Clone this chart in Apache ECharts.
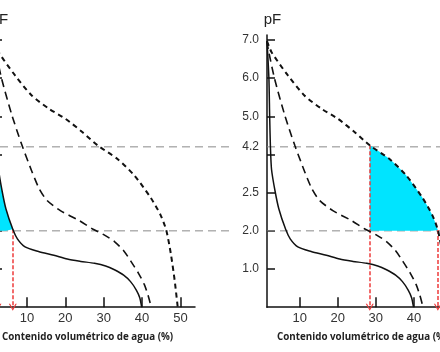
<!DOCTYPE html>
<html>
<head>
<meta charset="utf-8">
<script src="https://cdn.jsdelivr.net/npm/echarts@6/dist/echarts.min.js"></script>
<style>
  html, body { margin: 0; padding: 0; background: #fff; }
  #chart { width: 440px; height: 352px; }
</style>
</head>
<body>
<div id="chart"></div>
<script>
// curvas de retención: [contenido volumétrico (%), pF]
const curvaSolida = [[1.4, 6.97], [1.9, 6.0], [2.1, 5.0], [2.3, 4.2], [2.6, 3.6], [3.5, 3.05], [4.5, 2.58], [6.3, 2.04],
  [7.5, 1.79], [9.5, 1.58], [13, 1.46], [17, 1.36], [20.5, 1.26], [24, 1.2], [27.6, 1.15], [30.5, 1.08],
  [32.8, 0.98], [35.2, 0.84], [37, 0.67], [38.5, 0.45], [39.4, 0.25], [39.9, 0]]
const curvaTrazoLargo = [[1.4, 6.97], [1.7, 6.77], [3.4, 5.98], [6.1, 5.02], [8.7, 4.24], [11.3, 3.55], [13.2, 3.1],
  [15.2, 2.8], [18.7, 2.53], [23.6, 2.27], [27.1, 2.05], [30, 1.9], [32.8, 1.72], [35.2, 1.48], [37.1, 1.2],
  [39, 0.9], [40.6, 0.59], [41.6, 0.3], [42.4, 0]]
const curvaTrazoCorto = [[1.4, 6.97], [2.6, 6.68], [6.9, 6.07], [11.3, 5.54], [15.7, 5.2], [20.1, 4.93], [24.4, 4.59],
  [28.4, 4.24], [33.6, 3.88], [38, 3.45], [42.3, 2.86], [44.8, 2.42], [46.3, 2.02], [47.5, 1.4], [48.5, 0.7], [49.3, 0]]

// ejes
const yTicks = [1, 2, 3, 4, 5, 6, 7]
const yLabelValues = [1, 2, 3, 4.2, 5, 6, 7]
const yLabelTexts = ['1.0', '2.0', '2.5', '4.2', '5.0', '6.0', '7.0']
const xTicks = [10, 20, 30, 40, 50]
const pfMarchitez = 4.2
const pfCapacidad = 2.0

// agua disponible: tramo de la curva entre pF 4.2 y 2.0
function tramo (curva) {
  return curva.filter(p => p[1] <= pfMarchitez + 0.05 && p[1] >= pfCapacidad)
}
const aguaIzq = tramo(curvaSolida)
const aguaDer = tramo(curvaTrazoCorto)

const chart = echarts.init(document.getElementById('chart'))

const negro = '#111'
const rojo = '#ee3b3b'
const cian = '#00e4ff'
const flecha = 'path://M0,10 L5,0 L10,10 L8.4,10 L5,3.2 L1.6,10 Z'

function ejeY (idx) {
  return {
    type: 'value',
    gridIndex: idx,
    min: 0,
    max: 7.13,
    name: 'pF',
    nameLocation: 'end',
    nameGap: 8,
    nameTextStyle: { fontSize: 15, color: '#222', fontFamily: 'Liberation Sans', padding: [0, 0, 0, 11] },
    axisLine: { show: true, lineStyle: { color: negro, width: 1.5 } },
    axisTick: { show: true, inside: true, length: 8, customValues: yTicks, lineStyle: { color: negro, width: 1.5 } },
    axisLabel: {
      customValues: yLabelValues,
      formatter: v => {
        const i = yLabelValues.findIndex(t => Math.abs(t - v) < 1e-6)
        return i >= 0 ? yLabelTexts[i] : ''
      },
      margin: 8,
      fontSize: 12,
      fontFamily: 'Liberation Sans',
      color: '#333',
      padding: [0, 0, 6, 0]
    },
    splitLine: { show: false }
  }
}

function ejeX (idx, max) {
  return {
    type: 'value',
    gridIndex: idx,
    min: 1.4,
    max: max,
    axisLine: { show: true, onZero: false, lineStyle: { color: negro, width: 1.5 } },
    axisTick: { show: true, inside: true, length: 10, customValues: xTicks, lineStyle: { color: negro, width: 1.5 } },
    axisLabel: { customValues: xTicks, margin: 5, fontSize: 13, fontFamily: 'Liberation Sans', color: '#333' },
    splitLine: { show: false }
  }
}

function curvas (idx) {
  const base = { type: 'line', xAxisIndex: idx, yAxisIndex: idx, showSymbol: false, smooth: 0.25, silent: true, z: 5 }
  return [
    Object.assign({}, base, { name: 'solida', data: curvaSolida, lineStyle: { color: negro, width: 1.5 } }),
    Object.assign({}, base, { name: 'larga', data: curvaTrazoLargo, lineStyle: { color: negro, width: 1.6, type: [8, 5] } }),
    Object.assign({}, base, { name: 'corta', data: curvaTrazoCorto, lineStyle: { color: negro, width: 2, type: [5, 4] } })
  ]
}

function area (idx, datos) {
  const a = datos[0]
  const b = datos[datos.length - 1]
  return {
    type: 'line',
    xAxisIndex: idx,
    yAxisIndex: idx,
    data: datos,
    showSymbol: false,
    smooth: 0.25,
    silent: true,
    z: 2,
    lineStyle: { width: 0 },
    areaStyle: { color: cian, opacity: 1, origin: pfCapacidad },
    markLine: {
      silent: true,
      symbol: ['none', flecha],
      symbolSize: [8, 7],
      label: { show: false },
      lineStyle: { color: rojo, type: [4, 2], width: 1.5 },
      data: [
        [{ coord: [a[0], a[1]] }, { coord: [a[0], 0] }],
        [{ coord: [b[0], b[1]] }, { coord: [b[0], 0] }]
      ]
    }
  }
}

// líneas de referencia horizontales (rejilla auxiliar en píxeles)
function guia (x0, x1, y) {
  return {
    type: 'line',
    xAxisIndex: 2,
    yAxisIndex: 2,
    data: [[x0, y], [x1, y]],
    showSymbol: false,
    silent: true,
    z: 1,
    lineStyle: { color: '#8a8a8a', width: 1, type: [8, 5] }
  }
}

const titulo = 'Contenido volumétrico de agua (%)'
const estiloTitulo = { fontSize: 9.8, fontWeight: 'bold', color: '#222', fontFamily: 'Open Sans' }

chart.setOption({
  animation: false,
  title: [
    { text: titulo, left: 2, top: 332, padding: 0, textStyle: estiloTitulo },
    { text: titulo, left: 277, top: 332, padding: 0, textStyle: estiloTitulo }
  ],
  grid: [
    { left: -6, top: 35, width: 201, bottom: 44.8, outerBoundsMode: 'none', containLabel: false },
    { left: 267, top: 35, width: 223, bottom: 44.8, outerBoundsMode: 'none', containLabel: false },
    { left: 0, top: 35, width: 440, bottom: 44.8, outerBoundsMode: 'none', containLabel: false }
  ],
  xAxis: [
    ejeX(0, 53.8),
    ejeX(1, 60),
    { type: 'value', gridIndex: 2, min: 0, max: 440, show: false }
  ],
  yAxis: [
    ejeY(0),
    ejeY(1),
    { type: 'value', gridIndex: 2, min: 0, max: 7.13, show: false }
  ],
  series: [
    guia(0, 233, pfMarchitez),
    guia(0, 233, pfCapacidad),
    guia(267, 440, pfMarchitez),
    guia(267, 440, pfCapacidad),
    area(0, aguaIzq),
    area(1, aguaDer)
  ].concat(curvas(0), curvas(1))
})
</script>
</body>
</html>
